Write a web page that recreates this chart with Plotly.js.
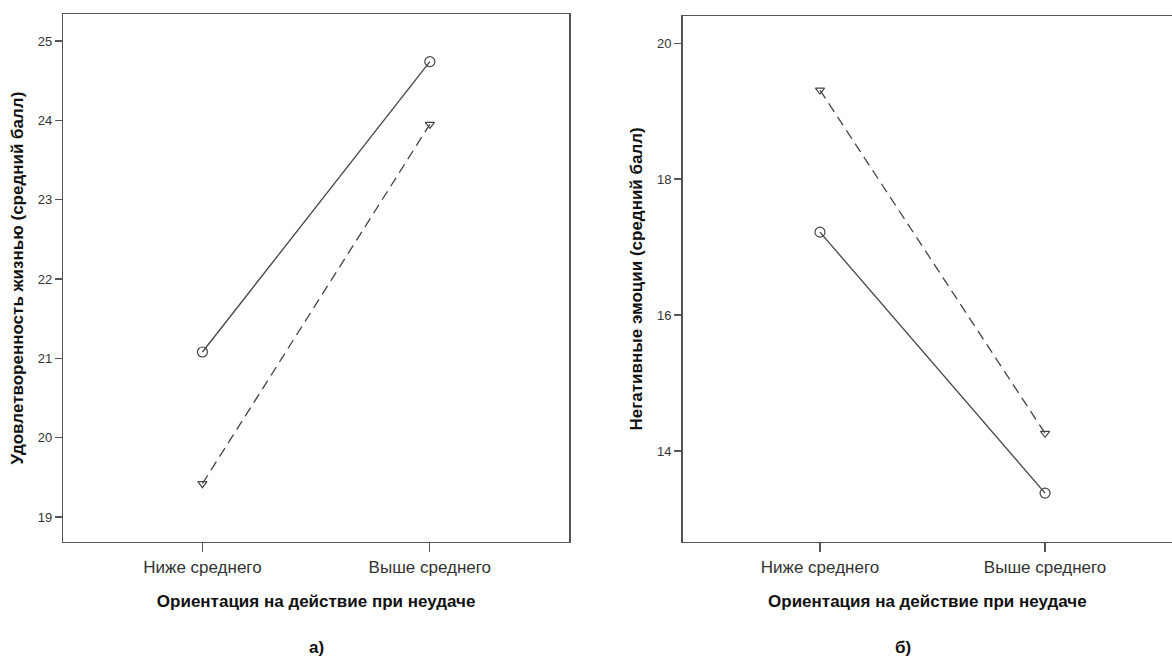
<!DOCTYPE html>
<html>
<head>
<meta charset="utf-8">
<script src="https://cdn.plot.ly/plotly-3.0.1.min.js"></script>
<style>html,body{margin:0;padding:0;background:#fff;}#chart{width:1172px;height:662px;}</style>
</head>
<body>
<div id="chart"></div>
<script>
// Data
const categories = ['Ниже среднего', 'Выше среднего'];
const satisfactionSolid = [21.08, 24.74];
const satisfactionDashed = [19.42, 23.95];
const negativeSolid = [17.22, 13.38];
const negativeDashed = [19.31, 14.26];
const leftYTicks = [19, 20, 21, 22, 23, 24, 25];
const rightYTicks = [14, 16, 18, 20];
const xTitle = 'Ориентация на действие при неудаче';
const leftYTitle = 'Удовлетворенность жизнью (средний балл)';
const rightYTitle = 'Негативные эмоции (средний балл)';
const panelLabels = ['а)', 'б)'];

const lineColor = '#444';
const FONT = 'Liberation Sans, Arial, sans-serif';

function trace(y, xa, ya, dashed) {
  return {
    x: categories, y: y, xaxis: xa, yaxis: ya,
    type: 'scatter', mode: 'lines+markers',
    line: {color: lineColor, width: 1.3, dash: dashed ? '10px,6px' : 'solid'},
    marker: {symbol: dashed ? 'triangle-down-open' : 'circle-open', size: dashed ? 8 : 10,
             color: lineColor, line: {color: lineColor, width: 1.2}},
    hoverinfo: 'x+y'
  };
}

const data = [
  trace(satisfactionSolid, 'x', 'y', false),
  trace(satisfactionDashed, 'x', 'y', true),
  trace(negativeSolid, 'x2', 'y2', false),
  trace(negativeDashed, 'x2', 'y2', true)
];

const axisCommon = {
  showline: true, linecolor: '#555', linewidth: 1.5,
  ticks: 'outside', tickcolor: '#555', tickwidth: 1.3,
  showgrid: false, zeroline: false, fixedrange: true
};
const titleFont = {family: FONT, size: 17, color: '#111', weight: 'bold'};
const xTitleObj = {text: xTitle, font: titleFont, standoff: 19};

const layout = {
  width: 1172, height: 662,
  margin: {l: 0, r: 0, t: 0, b: 0},
  paper_bgcolor: '#fff', plot_bgcolor: '#fff',
  showlegend: false,
  font: {family: FONT},
  xaxis: Object.assign({}, axisCommon, {
    domain: [0.054, 0.4855], anchor: 'y', type: 'category',
    range: [-0.612, 1.612], mirror: true, ticklen: 9,
    tickfont: {family: FONT, size: 17, color: '#333'},
    title: xTitleObj
  }),
  yaxis: Object.assign({}, axisCommon, {
    domain: [0.1813, 0.9784], anchor: 'x',
    range: [18.685, 25.337], tickvals: leftYTicks, ticktext: leftYTicks.map(String),
    mirror: true, ticklen: 7,
    tickfont: {family: FONT, size: 13, color: '#333'},
    title: {text: leftYTitle, font: titleFont, standoff: 10}
  }),
  xaxis2: Object.assign({}, axisCommon, {
    domain: [0.5825, 1], anchor: 'y2', type: 'category',
    range: [-0.61, 1.564], mirror: true, ticklen: 9,
    tickfont: {family: FONT, size: 17, color: '#333'},
    title: xTitleObj
  }),
  yaxis2: Object.assign({}, axisCommon, {
    domain: [0.1817, 0.9758], anchor: 'x2',
    range: [12.665, 20.40], tickvals: rightYTicks, ticktext: rightYTicks.map(String),
    mirror: false, ticklen: 7,
    tickfont: {family: FONT, size: 13, color: '#333'},
    title: {text: rightYTitle, font: titleFont, standoff: 10}
  }),
  annotations: [
    {text: panelLabels[0], xref: 'paper', yref: 'paper', x: 316 / 1172, y: (662 - 647) / 662,
     showarrow: false, xanchor: 'center', yanchor: 'middle', font: titleFont},
    {text: panelLabels[1], xref: 'paper', yref: 'paper', x: 903 / 1172, y: (662 - 647) / 662,
     showarrow: false, xanchor: 'center', yanchor: 'middle', font: titleFont}
  ]
};

Plotly.newPlot('chart', data, layout, {displayModeBar: false, staticPlot: true});
</script>
</body>
</html>
